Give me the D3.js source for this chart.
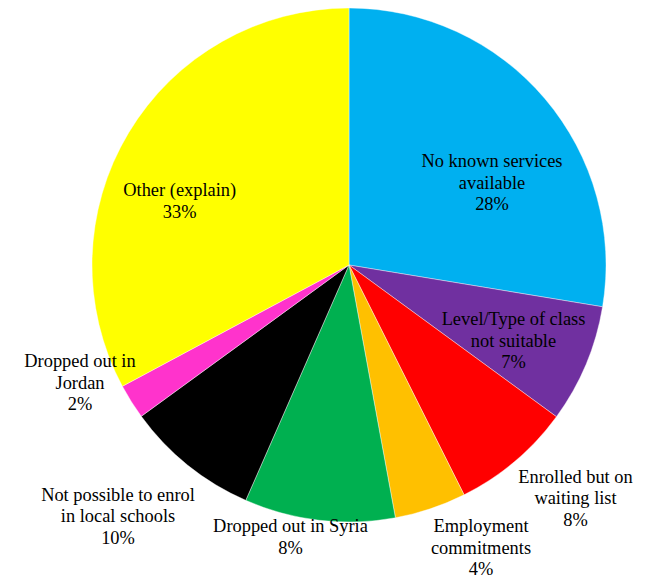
<!DOCTYPE html>
<html>
<head>
<meta charset="utf-8">
<script src="https://cdn.jsdelivr.net/npm/d3@7"></script>
<style>
html,body{margin:0;padding:0;background:#fff;}
svg{display:block;}
</style>
</head>
<body>
<svg id="chart" width="646" height="579"></svg>
<script>
// Slices, clockwise from 12 o'clock
const categories = [
  "No known services\navailable",
  "Level/Type of class\nnot suitable",
  "Enrolled but on\nwaiting list",
  "Employment\ncommitments",
  "Dropped out in Syria",
  "Not possible to enrol\nin local schools",
  "Dropped out in\nJordan",
  "Other (explain)"
];
const values = [27.6, 7.45, 7.56, 4.5, 9.47, 8.4, 2.2, 32.82];
const percentLabels = ["28%", "7%", "8%", "4%", "8%", "10%", "2%", "33%"];
const colors = ["#00B0F0", "#7030A0", "#FF0000", "#FFC000", "#00B050", "#000000", "#FF33CC", "#FFFF00"];

// label anchor offsets (first-line baseline) from pie centre — layout only
const labelOffsets = [[143, -98], [164.5, 60], [226.5, 217.5], [132, 267.3], [-58.5, 267.3], [-231, 235.7], [-269, 102.3], [-169.3, -69]];

const width = 646, height = 579;
const cx = 349, cy = 265, radius = 257;
const lineH = 21.5;

const svg = d3.select("#chart");
const g = svg.append("g").attr("transform", `translate(${cx},${cy})`);

const pie = d3.pie().sort(null).value(d => d);
const arc = d3.arc().innerRadius(0).outerRadius(radius);
const arcs = pie(values);

g.selectAll("path.slice")
  .data(arcs)
  .enter().append("path")
  .attr("class", "slice")
  .attr("d", arc)
  .attr("fill", (d, i) => colors[i])
  .attr("stroke", "#ffffff")
  .attr("stroke-width", 0.4);

arcs.forEach((d, i) => {
  const lines = categories[i].split("\n").concat([percentLabels[i]]);
  const [ox, oy] = labelOffsets[i];
  lines.forEach((ln, k) => {
    g.append("text")
      .attr("x", ox)
      .attr("y", oy + k * lineH)
      .attr("text-anchor", "middle")
      .attr("font-family", "Liberation Serif")
      .attr("font-size", 18.4)
      .style("font-family", "'Liberation Serif'")
      .attr("fill", "#000")
      .text(ln);
  });
});
</script>
</body>
</html>
